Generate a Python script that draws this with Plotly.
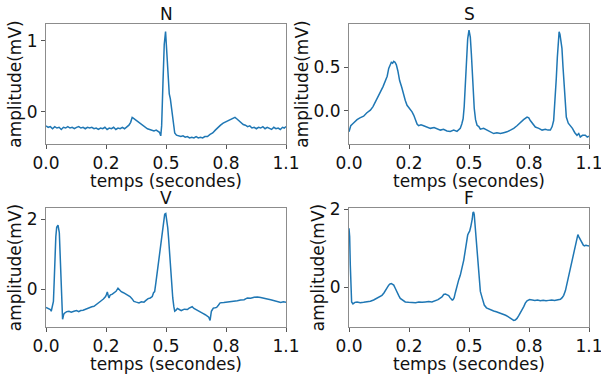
import plotly.graph_objects as go

# ---- data (time in seconds, amplitude in mV) ----
N_t = [0.000, 0.010, 0.020, 0.030, 0.040, 0.050, 0.060, 0.070, 0.080, 0.090, 0.100, 0.110, 0.120, 0.130,
       0.140, 0.150, 0.160, 0.170, 0.180, 0.190, 0.200, 0.210, 0.220, 0.230, 0.240, 0.250, 0.260, 0.270,
       0.280, 0.290, 0.300, 0.310, 0.320, 0.330, 0.340, 0.350, 0.360, 0.370, 0.380, 0.388, 0.395, 0.400,
       0.408, 0.415, 0.425, 0.435, 0.445, 0.455, 0.465, 0.475, 0.485, 0.495, 0.505, 0.512, 0.520, 0.526,
       0.530, 0.536, 0.542, 0.548, 0.552, 0.556, 0.560, 0.565, 0.570, 0.575, 0.582, 0.590, 0.598, 0.608,
       0.618, 0.628, 0.638, 0.648, 0.658, 0.668, 0.678, 0.688, 0.698, 0.708, 0.718, 0.728, 0.740, 0.752,
       0.764, 0.776, 0.788, 0.800, 0.812, 0.824, 0.836, 0.848, 0.858, 0.866, 0.874, 0.884, 0.894, 0.904,
       0.914, 0.924, 0.934, 0.944, 0.954, 0.964, 0.974, 0.984, 0.994, 1.004, 1.014, 1.024, 1.034, 1.044,
       1.054, 1.064, 1.074, 1.084, 1.092, 1.100]
N_v = [-0.20, -0.22, -0.21, -0.24, -0.21, -0.23, -0.22, -0.25, -0.22, -0.23, -0.21, -0.23, -0.22, -0.24,
       -0.22, -0.21, -0.23, -0.22, -0.24, -0.22, -0.23, -0.22, -0.24, -0.23, -0.25, -0.23, -0.24, -0.22,
       -0.25, -0.23, -0.24, -0.22, -0.25, -0.23, -0.24, -0.22, -0.24, -0.21, -0.19, -0.15, -0.08, -0.09,
       -0.11, -0.12, -0.15, -0.17, -0.20, -0.22, -0.24, -0.25, -0.26, -0.27, -0.26, -0.28, -0.29, -0.34,
       -0.20, 0.40, 0.95, 1.13, 0.92, 0.62, 0.38, 0.25, 0.18, 0.04, -0.15, -0.30, -0.33, -0.34,
       -0.35, -0.34, -0.36, -0.35, -0.37, -0.36, -0.37, -0.35, -0.37, -0.36, -0.37, -0.35, -0.35, -0.32,
       -0.30, -0.26, -0.22, -0.19, -0.16, -0.14, -0.12, -0.10, -0.09, -0.08, -0.10, -0.13, -0.15, -0.18,
       -0.19, -0.21, -0.20, -0.23, -0.22, -0.24, -0.22, -0.23, -0.21, -0.24, -0.22, -0.23, -0.25, -0.22,
       -0.24, -0.23, -0.25, -0.22, -0.23, -0.21]

S_t = [0.000, 0.008, 0.016, 0.026, 0.037, 0.050, 0.067, 0.082, 0.098, 0.110, 0.121, 0.133, 0.144, 0.156,
       0.167, 0.175, 0.182, 0.188, 0.194, 0.200, 0.205, 0.211, 0.217, 0.224, 0.232, 0.242, 0.251, 0.258,
       0.266, 0.278, 0.289, 0.297, 0.304, 0.312, 0.319, 0.330, 0.342, 0.355, 0.373, 0.390, 0.405, 0.419,
       0.433, 0.449, 0.464, 0.480, 0.495, 0.503, 0.510, 0.517, 0.523, 0.528, 0.533, 0.539, 0.544, 0.550,
       0.556, 0.561, 0.565, 0.570, 0.574, 0.580, 0.587, 0.595, 0.602, 0.617, 0.632, 0.648, 0.663, 0.678,
       0.694, 0.709, 0.724, 0.740, 0.755, 0.770, 0.785, 0.800, 0.816, 0.824, 0.831, 0.842, 0.854, 0.870,
       0.885, 0.900, 0.912, 0.923, 0.931, 0.938, 0.944, 0.950, 0.955, 0.958, 0.963, 0.967, 0.971, 0.976,
       0.981, 0.987, 0.992, 0.996, 1.005, 1.014, 1.024, 1.035, 1.045, 1.053, 1.060, 1.070, 1.083, 1.092,
       1.100]
S_v = [-0.24, -0.17, -0.15, -0.12, -0.10, -0.08, -0.06, -0.02, 0.01, 0.05, 0.10, 0.16, 0.22, 0.28,
       0.35, 0.40, 0.49, 0.52, 0.56, 0.55, 0.57, 0.56, 0.53, 0.46, 0.35, 0.27, 0.18, 0.12,
       0.065, 0.03, -0.01, -0.05, -0.11, -0.15, -0.17, -0.16, -0.17, -0.18, -0.20, -0.19, -0.21, -0.22,
       -0.21, -0.23, -0.235, -0.22, -0.235, -0.22, -0.20, -0.15, -0.09, 0.05, 0.33, 0.65, 0.83, 0.93,
       0.85, 0.65, 0.45, 0.22, 0.03, -0.10, -0.165, -0.18, -0.21, -0.20, -0.22, -0.24, -0.26, -0.25,
       -0.26, -0.25, -0.24, -0.22, -0.20, -0.17, -0.13, -0.10, -0.07, -0.08, -0.11, -0.15, -0.185, -0.20,
       -0.22, -0.21, -0.22, -0.22, -0.18, -0.11, 0.10, 0.37, 0.62, 0.80, 0.91, 0.88, 0.80, 0.72,
       0.50, 0.26, 0.05, -0.07, -0.14, -0.165, -0.20, -0.25, -0.28, -0.26, -0.30, -0.28, -0.28, -0.30,
       -0.29]

V_t = [0.000, 0.008, 0.014, 0.020, 0.024, 0.029, 0.034, 0.038, 0.041, 0.045, 0.049, 0.055, 0.061, 0.064,
       0.067, 0.070, 0.072, 0.074, 0.076, 0.079, 0.081, 0.086, 0.095, 0.105, 0.116, 0.128, 0.140, 0.150,
       0.159, 0.170, 0.180, 0.189, 0.200, 0.210, 0.220, 0.232, 0.243, 0.253, 0.263, 0.268, 0.273, 0.277,
       0.281, 0.285, 0.289, 0.293, 0.296, 0.304, 0.312, 0.321, 0.330, 0.338, 0.345, 0.355, 0.365, 0.375,
       0.385, 0.394, 0.403, 0.414, 0.426, 0.437, 0.449, 0.458, 0.468, 0.478, 0.487, 0.493, 0.498, 0.504,
       0.510, 0.516, 0.522, 0.528, 0.533, 0.539, 0.544, 0.549, 0.553, 0.558, 0.562, 0.567, 0.571, 0.576,
       0.581, 0.586, 0.590, 0.596, 0.602, 0.611, 0.620, 0.634, 0.648, 0.656, 0.663, 0.670, 0.678, 0.688,
       0.697, 0.709, 0.721, 0.730, 0.739, 0.746, 0.752, 0.755, 0.758, 0.763, 0.767, 0.775, 0.782, 0.790,
       0.798, 0.815, 0.831, 0.846, 0.862, 0.877, 0.892, 0.908, 0.923, 0.938, 0.954, 0.969, 0.984, 0.999,
       1.014, 1.030, 1.045, 1.060, 1.076, 1.088, 1.100]
V_v = [-0.52, -0.54, -0.55, -0.58, -0.63, -0.50, -0.35, 0.30, 0.97, 1.50, 1.77, 1.83, 1.62, 1.20,
       0.69, 0.10, -0.35, -0.65, -0.86, -0.78, -0.72, -0.68, -0.64, -0.63, -0.66, -0.63, -0.61, -0.64,
       -0.61, -0.60, -0.57, -0.55, -0.52, -0.50, -0.49, -0.44, -0.39, -0.33, -0.28, -0.25, -0.21, -0.15,
       -0.08, -0.18, -0.25, -0.18, -0.16, -0.14, -0.11, -0.06, 0.03, -0.02, -0.07, -0.10, -0.14, -0.16,
       -0.21, -0.27, -0.35, -0.37, -0.39, -0.36, -0.37, -0.32, -0.27, -0.25, -0.21, -0.10, -0.07, 0.20,
       0.50, 0.75, 0.97, 1.25, 1.62, 1.90, 2.14, 2.16, 2.00, 1.75, 1.44, 0.95, 0.50, 0.10,
       -0.25, -0.50, -0.63, -0.60, -0.55, -0.58, -0.61, -0.57, -0.58, -0.54, -0.52, -0.50, -0.55, -0.58,
       -0.63, -0.66, -0.70, -0.73, -0.77, -0.80, -0.89, -0.75, -0.63, -0.58, -0.54, -0.53, -0.52, -0.46,
       -0.39, -0.38, -0.37, -0.36, -0.34, -0.33, -0.31, -0.30, -0.25, -0.26, -0.23, -0.22, -0.24, -0.27,
       -0.28, -0.30, -0.33, -0.34, -0.38, -0.36, -0.37]

F_t = [0.000, 0.003, 0.006, 0.009, 0.012, 0.018, 0.027, 0.037, 0.052, 0.067, 0.082, 0.098, 0.113, 0.128,
       0.140, 0.151, 0.160, 0.167, 0.175, 0.182, 0.188, 0.194, 0.200, 0.205, 0.212, 0.220, 0.228, 0.235,
       0.246, 0.258, 0.273, 0.289, 0.305, 0.320, 0.335, 0.350, 0.365, 0.380, 0.395, 0.408, 0.418, 0.426,
       0.434, 0.442, 0.450, 0.457, 0.463, 0.468, 0.473, 0.477, 0.482, 0.487, 0.495, 0.503, 0.510, 0.518,
       0.526, 0.533, 0.539, 0.544, 0.549, 0.553, 0.558, 0.562, 0.565, 0.568, 0.571, 0.574, 0.579, 0.584,
       0.589, 0.594, 0.602, 0.611, 0.620, 0.630, 0.640, 0.652, 0.663, 0.675, 0.686, 0.697, 0.709, 0.718,
       0.727, 0.735, 0.742, 0.749, 0.755, 0.762, 0.770, 0.778, 0.785, 0.793, 0.801, 0.808, 0.816, 0.828,
       0.839, 0.852, 0.864, 0.877, 0.890, 0.903, 0.916, 0.929, 0.942, 0.955, 0.969, 0.977, 0.984, 0.992,
       0.999, 1.007, 1.014, 1.022, 1.030, 1.036, 1.042, 1.046, 1.049, 1.053, 1.057, 1.063, 1.068, 1.074,
       1.079, 1.085, 1.091, 1.096, 1.100]
F_v = [1.51, 1.30, 0.57, -0.05, -0.37, -0.42, -0.38, -0.37, -0.39, -0.38, -0.37, -0.35, -0.32, -0.28,
       -0.25, -0.20, -0.14, -0.07, 0.00, 0.06, 0.09, 0.10, 0.08, 0.06, -0.02, -0.13, -0.21, -0.28,
       -0.33, -0.37, -0.38, -0.38, -0.39, -0.37, -0.38, -0.37, -0.36, -0.37, -0.34, -0.31, -0.27, -0.24,
       -0.18, -0.17, -0.19, -0.21, -0.26, -0.30, -0.32, -0.31, -0.26, -0.14, 0.06, 0.20, 0.31, 0.50,
       0.70, 0.95, 1.20, 1.34, 1.40, 1.44, 1.55, 1.63, 1.75, 1.91, 1.93, 1.86, 1.50, 1.17,
       0.70, 0.23, -0.10, -0.28, -0.45, -0.52, -0.55, -0.57, -0.60, -0.62, -0.64, -0.66, -0.69, -0.71,
       -0.74, -0.77, -0.80, -0.83, -0.84, -0.83, -0.79, -0.72, -0.66, -0.57, -0.49, -0.40, -0.34, -0.31,
       -0.32, -0.33, -0.32, -0.34, -0.33, -0.34, -0.33, -0.32, -0.33, -0.31, -0.30, -0.26, -0.20, -0.08,
       0.10, 0.30, 0.49, 0.70, 0.91, 1.08, 1.25, 1.33, 1.35, 1.30, 1.25, 1.18, 1.12, 1.08,
       1.06, 1.08, 1.07, 1.06, 1.06]

titles = ["N", "S", "V", "F"]
x_label = "temps (secondes)"
y_label = "amplitude(mV)"
x_tickvals = [0.0, 0.275, 0.55, 0.825, 1.1]
x_ticktext = ["0.0", "0.2", "0.5", "0.8", "1.1"]
y_ranges = [[-0.455, 1.235], [-0.38, 1.0], [-1.08, 2.32], [-1.01, 2.03]]
y_tickvals = [[0, 1], [0.0, 0.5], [0, 2], [0, 2]]
y_ticktext = [["0", "1"], ["0.0", "0.5"], ["0", "2"], ["0", "2"]]

series = [(N_t, N_v), (S_t, S_v), (V_t, V_v), (F_t, F_v)]

W, H = 601, 376
boxes = [  # left, right, top, bottom in pixels
    (46, 286, 24, 144),
    (349, 589, 24, 144),
    (46, 286, 208, 327),
    (349, 589, 208, 327),
]

FONT = "DejaVu Sans"
FS = 17
TXT = "#111111"
COLOR = "#1f77b4"

fig = go.Figure()
layout = dict(
    width=W, height=H,
    margin=dict(l=0, r=0, t=0, b=0),
    paper_bgcolor="white", plot_bgcolor="white",
    showlegend=False,
    font=dict(family=FONT, size=FS, color=TXT),
)
annotations = []
for i, ((t, v), (l, r, top, bot)) in enumerate(zip(series, boxes)):
    xa = "x" if i == 0 else f"x{i+1}"
    ya = "y" if i == 0 else f"y{i+1}"
    fig.add_trace(go.Scatter(x=t, y=v, mode="lines", line=dict(color=COLOR, width=1.5),
                             xaxis=xa, yaxis=ya, hoverinfo="skip"))
    xkey = "xaxis" if i == 0 else f"xaxis{i+1}"
    ykey = "yaxis" if i == 0 else f"yaxis{i+1}"
    layout[xkey] = dict(
        domain=[l / W, r / W], anchor=ya, range=[0, 1.1], automargin=False,
        tickvals=x_tickvals, ticktext=x_ticktext, ticklabeloverflow="allow",
        showgrid=False, zeroline=False, showline=True, mirror=True,
        linecolor="#8c8c8c", linewidth=1, ticks="outside", ticklen=4, tickcolor="#555",
        tickfont=dict(family=FONT, size=FS, color=TXT),
    )
    layout[ykey] = dict(
        domain=[1 - bot / H, 1 - top / H], anchor=xa, range=y_ranges[i], automargin=False,
        tickvals=y_tickvals[i], ticktext=y_ticktext[i], ticklabeloverflow="allow",
        showgrid=False, zeroline=False, showline=True, mirror=True,
        linecolor="#8c8c8c", linewidth=1, ticks="outside", ticklen=4, tickcolor="#555",
        tickfont=dict(family=FONT, size=FS, color=TXT),
        title=dict(text=y_label, font=dict(family=FONT, size=FS, color=TXT), standoff=0),
    )
    # subplot title
    annotations.append(dict(
        text=titles[i], x=(l + r) / 2 / W, y=1 - (top - 10) / H, xref="paper", yref="paper",
        xanchor="center", yanchor="middle", showarrow=False,
        font=dict(family=FONT, size=FS, color=TXT),
    ))
    # x-axis title
    annotations.append(dict(
        text=x_label, x=(l + r) / 2 / W, y=1 - (bot + 37) / H, xref="paper", yref="paper",
        xanchor="center", yanchor="middle", showarrow=False, borderpad=0,
        font=dict(family=FONT, size=FS, color=TXT),
    ))
layout["annotations"] = annotations
fig.update_layout(**layout)
fig.write_html("out.html", config={"displayModeBar": False, "staticPlot": True},
               post_script="document.body.style.margin='0';document.body.style.overflow='hidden';")
